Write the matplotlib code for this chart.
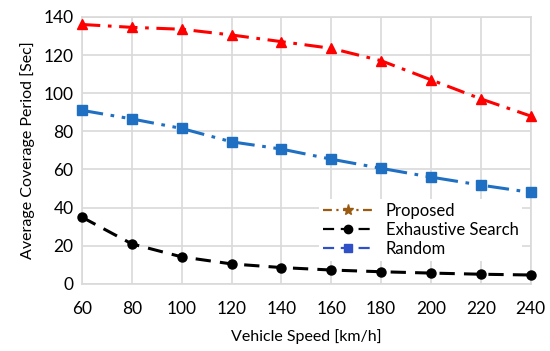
import matplotlib
matplotlib.use('Agg')
import matplotlib.pyplot as plt
from matplotlib.lines import Line2D

plt.rcParams['font.family'] = ['Lato', 'DejaVu Sans']

speed = [60, 80, 100, 120, 140, 160, 180, 200, 220, 240]
proposed = [136, 134.5, 133.5, 130.5, 127, 123.5, 117, 107, 97, 88]
exhaustive = [35, 21, 14.2, 10.5, 8.6, 7.3, 6.4, 5.7, 5.1, 4.7]
random_sel = [91, 86.5, 81.5, 74.5, 70.7, 65.4, 60.6, 56, 51.8, 48]
yticks = [0, 20, 40, 60, 80, 100, 120, 140]

red = '#ff0000'
blue = '#1f6fc3'

fig = plt.figure(figsize=(5.5, 3.51), dpi=100)
ax = fig.add_axes([0.149, 0.191, 0.816, 0.761])

ax.plot(speed, proposed, color=red, lw=2.2, linestyle=(0, (6, 2.5, 1.2, 2.5)),
        marker='^', ms=7, zorder=3, clip_on=False)
ax.plot(speed, random_sel, color=blue, lw=2.2, linestyle=(0, (7, 2.5, 1.2, 2.5, 1.2, 2.5)),
        marker='s', ms=6.5, zorder=3, clip_on=False)
ax.plot(speed, exhaustive, color='black', lw=2.2, linestyle=(0, (5, 3)),
        marker='o', ms=6.5, zorder=3, clip_on=False)

ax.set_xlim(60, 240)
ax.set_ylim(0, 140)
ax.set_xticks(speed)
ax.set_yticks(yticks)
ax.grid(True, color='#d9d9d9', lw=1.2)
ax.set_axisbelow(True)
for s in ax.spines.values():
    s.set_color('#d9d9d9')
    s.set_linewidth(1.2)
ax.tick_params(length=0, labelsize=12.5, pad=6)
ax.tick_params(axis='x', pad=12)

ax.set_xlabel('Vehicle Speed [km/h]', fontsize=11.5, labelpad=9)
ax.set_ylabel('Average Coverage Period [Sec]', fontsize=11.5, labelpad=6)

# legend colours look a bit different from the lines in the original
handles = [
    Line2D([], [], color='#9a5b10', lw=1.6, linestyle=(0, (4, 2, 1, 2)), marker='*', ms=8),
    Line2D([], [], color='black', lw=1.6, linestyle=(0, (5, 3)), marker='o', ms=6),
    Line2D([], [], color='#3050c8', lw=1.6, linestyle=(0, (5, 3)), marker='s', ms=5.5),
]
ax.legend(handles, ['Proposed', 'Exhaustive Search', 'Random'], loc='center',
          bbox_to_anchor=(0.765, 0.345), bbox_transform=fig.transFigure,
          frameon=True, edgecolor='none', facecolor='white', framealpha=1,
          fontsize=12, handlelength=3.0, labelspacing=0.2, borderpad=0.2)

fig.savefig('out.png', dpi=100)
